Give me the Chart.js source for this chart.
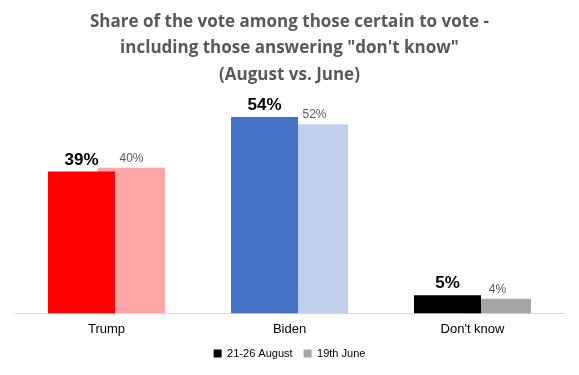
<!DOCTYPE html>
<html>
<head>
<meta charset="utf-8">
<script src="https://cdn.jsdelivr.net/npm/chart.js@4/dist/chart.umd.min.js"></script>
<style>
  html, body { margin: 0; padding: 0; background: #fff; }
  #wrap { width: 579px; height: 375px; }
</style>
</head>
<body>
<div id="wrap"><canvas id="voteChart"></canvas></div>
<script>
const categories = ['Trump', 'Biden', "Don't know"];
const august = [39, 54, 5];
const june = [40, 52, 4];
const seriesNames = ['21-26 August', '19th June'];

const augustColors = ['#FF0000', '#4472C4', '#000000'];
const juneColors = ['#FFA7A7', '#C0D0EC', '#A6A6A6'];

const barLabels = {
    id: 'barLabels',
    afterDatasetsDraw(chart) {
        const ctx = chart.ctx;
        chart.data.datasets.forEach((ds, i) => {
            const meta = chart.getDatasetMeta(i);
            meta.data.forEach((bar, j) => {
                ctx.save();
                ctx.textAlign = 'center';
                ctx.textBaseline = 'bottom';
                if (i === 0) {
                    ctx.font = 'bold 17px "Liberation Sans", Arial, sans-serif';
                    ctx.fillStyle = '#000';
                } else {
                    ctx.font = '12px "Liberation Sans", Arial, sans-serif';
                    ctx.fillStyle = '#595959';
                }
                ctx.fillText(ds.data[j] + '%', bar.x, bar.y - 3);
                ctx.restore();
            });
        });
    }
};

new Chart(document.getElementById('voteChart').getContext('2d'), {
    type: 'bar',
    data: {
        labels: categories,
        datasets: [
            {
                label: seriesNames[0],
                data: august,
                backgroundColor: augustColors,
                barPercentage: 1.34,
                categoryPercentage: 0.5464
            },
            {
                label: seriesNames[1],
                data: june,
                backgroundColor: juneColors,
                barPercentage: 1.34,
                categoryPercentage: 0.5464
            }
        ]
    },
    options: {
        responsive: true,
        maintainAspectRatio: false,
        animation: false,
        layout: {
            padding: { left: 15, right: 15, top: 0, bottom: 6 }
        },
        plugins: {
            title: {
                display: true,
                text: [
                    'Share of the vote among those certain to vote -',
                    'including those answering "don\'t know"',
                    '(August vs. June)'
                ],
                color: '#595959',
                font: { family: 'Open Sans', size: 17, weight: 'bold', lineHeight: 1.55 },
                padding: { top: 9, bottom: 7 }
            },
            legend: {
                position: 'bottom',
                labels: {
                    color: '#000',
                    font: { family: 'Liberation Sans', size: 11 },
                    boxWidth: 8,
                    boxHeight: 8,
                    padding: 11,
                    generateLabels: () => seriesNames.map((name, i) => ({
                        text: name,
                        fillStyle: i === 0 ? '#000000' : '#A6A6A6',
                        strokeStyle: 'transparent',
                        lineWidth: 0,
                        datasetIndex: i
                    }))
                }
            },
            tooltip: { enabled: false }
        },
        scales: {
            x: {
                grid: { display: false },
                border: { color: '#D9D9D9', width: 1 },
                ticks: {
                    color: '#000',
                    font: { family: 'Liberation Sans', size: 13 },
                    padding: 0
                }
            },
            y: {
                display: false,
                min: 0,
                max: 60
            }
        }
    },
    plugins: [barLabels]
});
</script>
</body>
</html>
